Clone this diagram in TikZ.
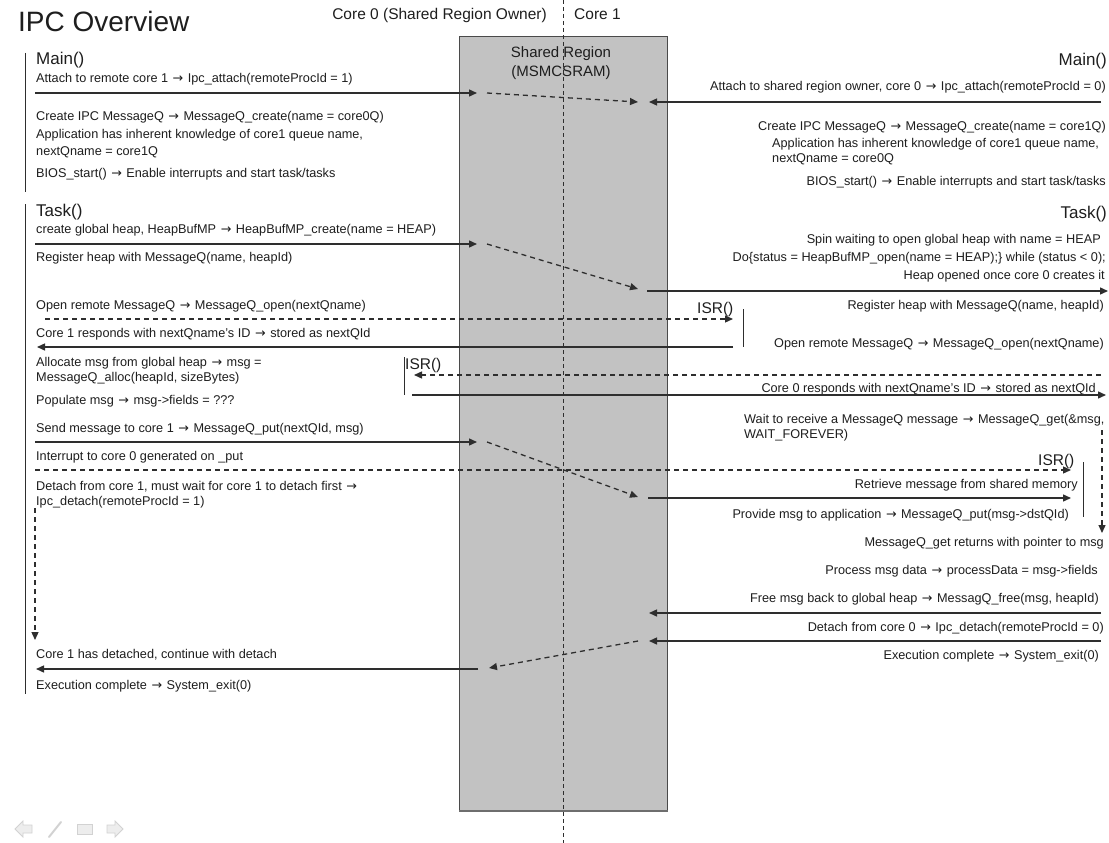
\documentclass[tikz,border=0pt]{standalone}
\usepackage{fontspec}
\setmainfont{Liberation Sans}
\newfontfamily\symbolfont{DejaVu Sans}
\newcommand{\ipcarrow}{{\kern1pt\symbolfont →\kern1pt}}
\usetikzlibrary{arrows.meta}
\definecolor{ink}{HTML}{1E1E1E}
\definecolor{wire}{HTML}{2E2E2E}
\definecolor{region}{HTML}{C2C2C2}
\definecolor{regionedge}{HTML}{4A4A4A}
\definecolor{navline}{HTML}{D2D2D2}
\definecolor{navfill}{HTML}{EDEDED}

\begin{document}
\begin{tikzpicture}[x=1pt,y=-1pt,
  body/.style={font=\fontsize{12.7}{14}\selectfont, text=ink, inner sep=0pt},
  lbody/.style={body, anchor=base west},
  rbody/.style={body, anchor=base east},
  head/.style={font=\fontsize{17}{20}\selectfont, text=ink, inner sep=0pt},
  corehead/.style={font=\fontsize{15.5}{18}\selectfont, text=ink, inner sep=0pt, anchor=base west},
  isrlabel/.style={font=\fontsize{15.5}{18}\selectfont, text=ink, inner sep=0pt, anchor=base west},
  msg/.style={draw=wire, line width=1.4pt, -{Triangle[length=8pt,width=7pt]}},
  dmsg/.style={msg, line width=1.3pt, dash pattern=on 5pt off 4pt},
  bar/.style={draw=wire, line width=1pt},
  navicon/.style={draw=navline, fill=navfill, line width=0.8pt},
]
\fill[white] (0,0) rectangle (1109,843);
\useasboundingbox (0,0) rectangle (1109,843);

% ---------- header ----------
\node[font=\fontsize{28}{32}\selectfont, text=ink, inner sep=0pt, anchor=base west] (title) at (18,32) {IPC Overview};
\node[corehead, anchor=base east] (core0) at (547,20) {Core 0 (Shared Region Owner)};
\node[corehead] (core1) at (574,20) {Core 1};

% ---------- shared memory region ----------
\node[draw=regionedge, fill=region, line width=0.8pt, minimum width=208pt, minimum height=774pt,
      inner sep=0pt, anchor=north west] (shm) at (459,36) {};
\draw[draw=regionedge!80, line width=1.6pt] (shm.south west) -- (shm.south east);
\node[font=\fontsize{15}{18}\selectfont, text=ink, inner sep=0pt, anchor=base] (shmname) at (561,58) {Shared Region};
\node[font=\fontsize{15}{18}\selectfont, text=ink, inner sep=0pt, anchor=base] (shmmem) at (561,77) {(MSMCSRAM)};

% core divider
\coordinate (divtop) at (563,0);
\coordinate (divbot) at (563,843);
\draw[wire, line width=0.9pt, dash pattern=on 4pt off 3pt] (divtop) -- (divbot);

% ---------- core 0 : Main() ----------
\coordinate (mainbarT) at (25,53);
\coordinate (mainbarB) at (25,192);
\draw[bar] (mainbarT) -- (mainbarB);
\node[head, anchor=base west] (lmain) at (36,65) {Main()};
\node[lbody] (lattach) at (36,83) {Attach to remote core 1 \ipcarrow{} Ipc\_attach(remoteProcId = 1)};
\node[lbody] (lcreate) at (36,121) {Create IPC MessageQ \ipcarrow{} MessageQ\_create(name = core0Q)};
\node[lbody] (lapp1) at (36,139) {Application has inherent knowledge of core1 queue name,};
\node[lbody] (lapp2) at (36,155) {nextQname = core1Q};
\node[lbody] (lbios) at (36,177) {BIOS\_start() \ipcarrow{} Enable interrupts and start task/tasks};

% ---------- core 0 : Task() ----------
\coordinate (taskbarT) at (25,204);
\coordinate (taskbarB) at (25,694);
\draw[bar] (taskbarT) -- (taskbarB);
\node[head, anchor=base west] (ltask) at (36,216) {Task()};
\node[lbody] (lheap) at (36,233) {create global heap, HeapBufMP \ipcarrow{} HeapBufMP\_create(name = HEAP)};
\node[lbody] (lreg) at (36,261) {Register heap with MessageQ(name, heapId)};
\node[lbody] (lopen) at (36,309) {Open remote MessageQ \ipcarrow{} MessageQ\_open(nextQname)};
\node[lbody] (lresp) at (36,337) {Core 1 responds with nextQname's ID \ipcarrow{} stored as nextQId};
\node[lbody] (lalloc1) at (36,366) {Allocate msg from global heap \ipcarrow{} msg =};
\node[lbody] (lalloc2) at (36,381) {MessageQ\_alloc(heapId, sizeBytes)};
\node[lbody] (lpop) at (36,404) {Populate msg \ipcarrow{} msg->fields = ???};
\node[lbody] (lsend) at (36,432) {Send message to core 1 \ipcarrow{} MessageQ\_put(nextQId, msg)};
\node[lbody] (lint) at (36,460) {Interrupt to core 0 generated on \_put};
\node[lbody] (ldet1) at (36,490) {Detach from core 1, must wait for core 1 to detach first \ipcarrow};
\node[lbody] (ldet2) at (36,505) {Ipc\_detach(remoteProcId = 1)};
\node[lbody] (ldone) at (36,658) {Core 1 has detached, continue with detach};
\node[lbody] (lexit) at (36,689) {Execution complete \ipcarrow{} System\_exit(0)};

% ---------- core 1 : Main() ----------
\node[head, anchor=base east] (rmain) at (1107,66) {Main()};
\node[rbody] (rattach) at (1106,91) {Attach to shared region owner, core 0 \ipcarrow{} Ipc\_attach(remoteProcId = 0)};
\node[rbody] (rcreate) at (1106,130) {Create IPC MessageQ \ipcarrow{} MessageQ\_create(name = core1Q)};
\node[lbody] (rapp1) at (772,147) {Application has inherent knowledge of core1 queue name,};
\node[lbody] (rapp2) at (772,162) {nextQname = core0Q};
\node[rbody] (rbios) at (1106,185) {BIOS\_start() \ipcarrow{} Enable interrupts and start task/tasks};

% ---------- core 1 : Task() ----------
\node[head, anchor=base east] (rtask) at (1107,218) {Task()};
\node[rbody] (rspin) at (1101,243) {Spin waiting to open global heap with name = HEAP};
\node[rbody] (rdo) at (1106,261) {Do\{status = HeapBufMP\_open(name = HEAP);\} while (status < 0);};
\node[rbody] (ropened) at (1105,279) {Heap opened once core 0 creates it};
\node[rbody] (rreg) at (1104,309) {Register heap with MessageQ(name, heapId)};
\node[rbody] (ropen) at (1104,347) {Open remote MessageQ \ipcarrow{} MessageQ\_open(nextQname)};
\node[rbody] (rresp) at (1096,392) {Core 0 responds with nextQname's ID \ipcarrow{} stored as nextQId};
\node[lbody] (rwait1) at (744,423) {Wait to receive a MessageQ message \ipcarrow{} MessageQ\_get(\&msg,};
\node[lbody] (rwait2) at (744,438) {WAIT\_FOREVER)};
\node[rbody] (rretr) at (1078,488) {Retrieve message from shared memory};
\node[rbody] (rprov) at (1069,518) {Provide msg to application \ipcarrow{} MessageQ\_put(msg->dstQId)};
\node[rbody] (rgot) at (1104,546) {MessageQ\_get returns with pointer to msg};
\node[rbody] (rproc) at (1098,574) {Process msg data \ipcarrow{} processData = msg->fields};
\node[rbody] (rfree) at (1099,602) {Free msg back to global heap \ipcarrow{} MessagQ\_free(msg, heapId)};
\node[rbody] (rdet) at (1104,631) {Detach from core 0 \ipcarrow{} Ipc\_detach(remoteProcId = 0)};
\node[rbody] (rexit) at (1099,659) {Execution complete \ipcarrow{} System\_exit(0)};

% ---------- interrupt service routines ----------
\node[isrlabel] (isr0) at (405,369) {ISR()};
\node[isrlabel] (isr1) at (697,313) {ISR()};
\node[isrlabel] (isr2) at (1038,465) {ISR()};
\coordinate (isr0T) at (404,357);
\coordinate (isr0B) at (404,395);
\coordinate (isr1T) at (743,309);
\coordinate (isr1B) at (743,347);
\coordinate (isr2T) at (1083,462);
\coordinate (isr2B) at (1083,517);
\draw[bar] (isr0T) -- (isr0B);
\draw[bar] (isr1T) -- (isr1B);
\draw[bar] (isr2T) -- (isr2B);

% ---------- message endpoints ----------
\coordinate (c0attach) at (35,93);
\coordinate (shmA0) at (477,93);
\coordinate (shmA0o) at (487,93);
\coordinate (shmA1) at (638,102);
\coordinate (shmA1i) at (649,102);
\coordinate (c1attach) at (1101,102);

\coordinate (c0heap) at (35,244);
\coordinate (shmH0) at (477,244);
\coordinate (shmH0o) at (487,244);
\coordinate (shmH1) at (638,289);
\coordinate (shmH1o) at (647,291);
\coordinate (c1heap) at (1108,291);

\coordinate (c0open) at (45,319);
\coordinate (isr1in) at (733,319);
\coordinate (isr1out) at (733,347);
\coordinate (c0resp) at (37,347);

\coordinate (c1open) at (1101,375);
\coordinate (isr0in) at (414,375);
\coordinate (isr0out) at (412,395);
\coordinate (c1resp) at (1106,395);

\coordinate (c0put) at (35,442);
\coordinate (shmP0) at (477,442);
\coordinate (shmP0o) at (487,442);
\coordinate (shmP1) at (638,497);
\coordinate (shmP1o) at (648,498);
\coordinate (isr2out) at (1071,498);

\coordinate (c0int) at (35,470);
\coordinate (isr2in) at (1071,470);

\coordinate (c0wait) at (35,508);
\coordinate (c0waited) at (35,640);
\coordinate (c1wait) at (1102,430);
\coordinate (c1waited) at (1102,533);

\coordinate (c1free) at (1101,613);
\coordinate (shmF1) at (649,613);
\coordinate (c1det) at (1101,641);
\coordinate (shmD1) at (649,641);
\coordinate (shmD1o) at (638,641);
\coordinate (shmD0) at (489,668);
\coordinate (shmD0o) at (478,669);
\coordinate (c0det) at (36,669);

% ---------- messages ----------
\draw[msg] (c0attach) -- (shmA0);
\draw[dmsg] (shmA0o) -- (shmA1);
\draw[msg] (c1attach) -- (shmA1i);

\draw[msg] (c0heap) -- (shmH0);
\draw[dmsg] (shmH0o) -- (shmH1);
\draw[msg] (shmH1o) -- (c1heap);

\draw[dmsg] (c0open) -- (isr1in);
\draw[msg] (isr1out) -- (c0resp);

\draw[dmsg] (c1open) -- (isr0in);
\draw[msg] (isr0out) -- (c1resp);

\draw[msg] (c0put) -- (shmP0);
\draw[dmsg] (shmP0o) -- (shmP1);
\draw[msg] (shmP1o) -- (isr2out);
\draw[dmsg] (c0int) -- (isr2in);

\draw[dmsg] (c0wait) -- (c0waited);
\draw[dmsg] (c1wait) -- (c1waited);

\draw[msg] (c1free) -- (shmF1);
\draw[msg] (c1det) -- (shmD1);
\draw[dmsg] (shmD1o) -- (shmD0);
\draw[msg] (shmD0o) -- (c0det);

% ---------- slide navigation icons ----------
\draw[navicon] (15,829) -- (23,821) -- (23,825) -- (32,825) -- (32,833) -- (23,833) -- (23,837) -- cycle;
\draw[navline, line width=2pt, line cap=round] (49,837) -- (61,822);
\draw[navicon] (77,824) rectangle (92,834);
\draw[navicon] (123,829) -- (115,821) -- (115,825) -- (107,825) -- (107,833) -- (115,833) -- (115,837) -- cycle;
\end{tikzpicture}
\end{document}
